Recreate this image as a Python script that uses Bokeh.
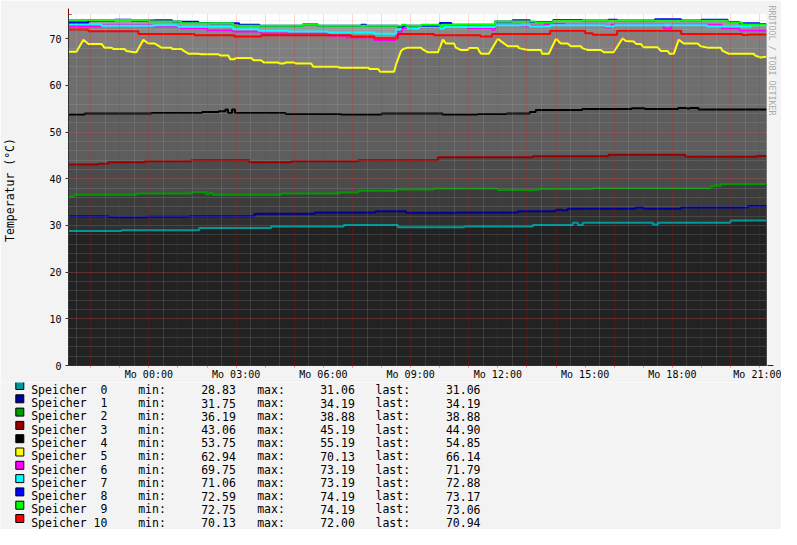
import numpy as np
from bokeh.plotting import figure
from bokeh.layouts import column
from bokeh.models import Range1d, FixedTicker, Title, Arrow, NormalHead
from bokeh.core.properties import value
from bokeh.embed import file_html
from bokeh.resources import INLINE

FONT = "DejaVu Sans Mono"

# ---------------- data ----------------
# time in hours relative to Monday 00:00
T_START = -2.764
T_END = 21.236
Y_MAX = 75.2

tick_hours = [0, 3, 6, 9, 12, 15, 18, 21]
tick_labels = ["Mo 00:00", "Mo 03:00", "Mo 06:00", "Mo 09:00",
               "Mo 12:00", "Mo 15:00", "Mo 18:00", "Mo 21:00"]
y_ticks = [0, 10, 20, 30, 40, 50, 60, 70]

names = ["Speicher\u00a0 0", "Speicher\u00a0 1", "Speicher\u00a0 2", "Speicher\u00a0 3",
         "Speicher\u00a0 4", "Speicher\u00a0 5", "Speicher\u00a0 6", "Speicher\u00a0 7",
         "Speicher\u00a0 8", "Speicher\u00a0 9", "Speicher 10"]
colors = ["#009999", "#000099", "#009900", "#990000", "#000000", "#ffff00",
          "#ff00ff", "#00ffff", "#0000ff", "#00ff00", "#ff0000"]
area_greys = ["#222222", "#2f2f2f", "#3c3c3c", "#4b4b4b", "#5d5d5d", "#6e6e6e",
              "#8a8a8a", "#939393", "#a3a3a3", "#9b9b9b", "#7f7f7f"]
mins = ["28.83", "31.75", "36.19", "43.06", "53.75", "62.94",
        "69.75", "71.06", "72.59", "72.75", "70.13"]
maxs = ["31.06", "34.19", "38.88", "45.19", "55.19", "70.13",
        "73.19", "73.19", "74.19", "74.19", "72.00"]
lasts = ["31.06", "34.19", "38.88", "44.90", "54.85", "66.14",
         "71.79", "72.88", "73.17", "73.06", "70.94"]

# step series: change times (h) and values
s0_t = [-2.764, -0.94, 1.73, 4.2, 6.7, 8.56, 10.84, 13.2, 14.58, 14.75, 14.92, 17.33, 17.5, 20.0]
s0_v = [28.83, 28.95, 29.45, 29.8, 30.08, 29.6, 29.8, 30.08, 30.6, 30.1, 30.6, 30.2, 30.6, 31.06]

s1_t = [-2.764, -1.39, -1.22, -0.08, 1.39, 3.63, 5.7, 7.8, 8.84, 10.6, 12.7, 14.0, 14.2, 14.4, 16.74, 17.0, 18.3, 20.6]
s1_v = [31.95, 31.8, 31.75, 31.85, 31.95, 32.5, 32.8, 33.05, 32.7, 32.8, 33.05, 33.35, 33.25, 33.6, 33.86, 33.6, 33.86, 34.19]

s2_t = [-2.764, -2.58, -0.43, 1.46, 1.97, 2.08, 2.2, 4.55, 6.55, 7.2, 8.5, 9.8, 12.0, 13.4, 15.26, 19.3, 19.45, 19.55, 19.66]
s2_v = [36.19, 36.6, 36.87, 37.1, 36.75, 36.95, 36.6, 36.87, 37.08, 37.45, 37.7, 37.94, 37.62, 37.8, 38.0, 38.35, 38.7, 38.5, 38.88]

s3_t = [-2.764, -1.75, -1.4, -0.15, 1.46, 3.46, 4.9, 7.2, 9.94, 13.2, 15.8, 18.45, 20.9]
s3_v = [43.06, 43.2, 43.56, 43.77, 43.99, 43.56, 43.77, 43.99, 44.63, 44.85, 45.15, 44.7, 44.9]

s4_t = [-2.764, -2.21, 0.09, 1.83, 2.4, 2.63, 2.72, 2.86, 2.96, 4.7, 6.6, 8.0, 10.1, 11.3,
        12.3, 13.1, 13.3, 14.9, 16.6, 17.05, 18.2, 18.5, 18.6, 18.9]
s4_v = [53.75, 54.0, 54.1, 54.3, 54.45, 54.85, 54.1, 54.85, 54.1, 53.9, 53.75, 54.0, 53.75, 53.9,
        54.0, 54.3, 54.76, 54.97, 55.1, 54.97, 55.19, 55.05, 55.19, 54.85]

# yellow series: line points
s5_t = [-2.764, -2.49, -2.25, -2.08, -1.63, -1.53, -1.29, -1.22, -0.84, -0.77, -0.50, -0.43,
        -0.19, -0.02, 0.19, 0.43, 0.77, 0.80, 1.12, 1.20, 1.36, 1.70, 1.80, 2.39, 2.45, 2.73,
        2.80, 2.94, 3.00, 3.52, 3.60, 3.86, 3.95, 4.45, 4.50, 4.65, 4.70, 5.00, 5.05, 5.58,
        5.65, 6.51, 6.55, 7.54, 7.60, 7.88, 7.95, 8.43, 8.50, 8.67, 8.75, 8.91, 9.36, 9.40,
        9.60, 9.94, 10.11, 10.21, 10.49, 10.55, 10.73, 10.97, 11.0, 11.31, 11.35, 11.42, 11.69,
        12.00, 12.10, 12.34, 12.69, 12.72, 13.03, 13.48, 13.52, 13.75, 14.00, 14.16, 14.40,
        14.51, 14.85, 14.9, 15.09, 15.54, 15.64, 15.98, 16.29, 16.40, 16.67, 16.75, 16.91,
        17.01, 17.49, 17.60, 17.84, 17.9, 18.05, 18.22, 18.39, 18.87, 18.97, 19.21, 19.66,
        19.73, 19.93, 20.79, 20.85, 21.03, 21.236]
s5_v = [67.2, 67.2, 69.8, 68.9, 68.9, 68.1, 68.1, 67.8, 67.8, 67.4, 67.1, 67.1,
        69.8, 69.0, 69.0, 68.1, 68.1, 67.8, 67.8, 67.4, 66.8, 66.8, 66.7, 66.7, 66.4, 66.4,
        65.6, 65.6, 65.9, 65.9, 65.4, 65.4, 64.9, 64.9, 64.7, 64.7, 64.9, 64.9, 64.7, 64.7,
        64.0, 64.0, 63.8, 63.8, 63.5, 63.5, 62.94, 62.94, 64.5, 67.4, 67.8, 68.1, 68.1, 67.8,
        67.1, 67.1, 69.8, 69.0, 69.0, 68.1, 67.6, 67.6, 68.0, 68.0, 67.4, 66.8, 66.8,
        70.0, 69.5, 68.4, 68.4, 68.0, 67.6, 67.6, 66.8, 66.8, 70.0, 69.0, 69.0,
        68.4, 68.4, 68.0, 67.6, 67.6, 67.1, 67.1, 70.13, 69.5, 69.4, 68.9, 68.9,
        68.2, 68.2, 67.4, 67.4, 66.8, 66.8, 69.8, 69.0, 69.0, 68.4, 68.1, 68.1,
        67.4, 66.8, 66.8, 66.4, 66.0, 66.14]

s6_t = [-2.764, -1.63, 0.1, 1.1, 2.0, 2.9, 3.86, 6.2, 6.8, 7.75, 8.5, 8.7, 9.36, 10.97, 11.8,
        11.9, 12.8, 13.6, 14.3, 15.7, 15.9, 17.7, 17.95, 19.7, 20.3]
s6_v = [72.64, 72.92, 72.64, 72.21, 71.84, 71.57, 71.14, 70.64, 70.28, 69.75, 71.5, 72.3, 72.64,
        72.28, 71.93, 73.0, 72.78, 73.19, 73.0, 72.4, 73.0, 72.2, 73.0, 72.2, 71.79]

s7_t = [-2.764, -1.63, 0.2, 1.0, 2.9, 3.76, 4.8, 6.16, 7.75, 8.5, 8.65, 8.9, 9.3, 10.0, 10.15,
        11.9, 13.1, 13.8, 15.7, 16.0, 19.2, 20.7]
s7_v = [73.1, 72.78, 72.9, 72.57, 72.06, 71.72, 71.57, 71.35, 71.06, 72.0, 72.7, 72.2, 72.5, 72.2,
        72.5, 72.92, 72.64, 72.92, 72.64, 72.92, 72.64, 72.88]

s8_t = [-2.764, -2.08, -1.18, -0.6, 0.2, 0.8, 1.1, 1.7, 2.1, 3.1, 3.8, 5.3, 5.8, 7.3, 7.47, 8.56,
        8.74, 10.0, 10.4, 11.9, 12.5, 13.1, 13.9, 14.9, 15.8, 16.1, 17.4, 18.3, 19.0, 19.9, 20.3, 21.0]
s8_v = [73.5, 73.9, 74.1, 73.9, 73.95, 73.7, 73.65, 73.4, 73.3, 73.0, 72.8, 73.1, 72.8, 73.0, 72.8,
        72.59, 72.8, 73.4, 73.0, 73.7, 73.95, 73.6, 74.0, 73.9, 74.05, 73.9, 74.19, 73.9, 74.05,
        73.6, 73.3, 73.17]

s9_t = [-2.764, 0.0, 1.1, 2.9, 5.3, 5.8, 8.7, 8.85, 9.36, 10.0, 10.1, 11.9, 13.3, 13.9, 19.9, 20.4]
s9_v = [74.0, 73.7, 73.3, 72.8, 73.1, 72.8, 73.0, 72.8, 73.0, 72.75, 73.0, 73.7, 73.5, 73.88, 73.5, 73.06]

s10_t = [-2.764, -2.08, -0.36, 1.57, 2.94, 3.86, 6.95, 7.75, 8.56, 9.8, 11.4, 11.8, 13.8, 15.0,
         15.26, 16.1, 18.3, 20.4, 20.6]
s10_v = [72.0, 71.6, 71.0, 70.77, 70.5, 70.77, 70.5, 70.13, 71.0, 70.77, 70.5, 71.0, 71.72, 71.2,
         70.85, 71.72, 71.0, 70.8, 70.94]


def step_xy(ts, vs, end=T_END):
    xs, ys = [], []
    for i, (t, v) in enumerate(zip(ts, vs)):
        t_next = ts[i + 1] if i + 1 < len(ts) else end
        xs += [t, t_next]
        ys += [v, v]
    return xs, ys


series = [step_xy(s0_t, s0_v), step_xy(s1_t, s1_v), step_xy(s2_t, s2_v),
          step_xy(s3_t, s3_v), step_xy(s4_t, s4_v), (s5_t, s5_v),
          step_xy(s6_t, s6_v), step_xy(s7_t, s7_v), step_xy(s8_t, s8_v),
          step_xy(s9_t, s9_v), step_xy(s10_t, s10_v)]

# ---------------- main plot ----------------
BG = "#f3f3f3"
W = 781
MAIN_H = 382
FRAME_L, FRAME_W, FRAME_T, FRAME_H = 67, 699, 14, 351
p = figure(width=W, height=MAIN_H, x_range=Range1d(T_START, T_END), y_range=Range1d(0, Y_MAX),
           output_backend="svg", toolbar_location=None,
           min_border_left=FRAME_L, min_border_right=W - FRAME_L - FRAME_W,
           min_border_top=FRAME_T, min_border_bottom=MAIN_H - FRAME_T - FRAME_H)
p.frame_align = False
p.background_fill_color = "white"
p.border_fill_color = BG
p.outline_line_color = None

# areas, highest first
area_order = [8, 9, 7, 6, 10, 5, 4, 3, 2, 1, 0]
for i in area_order:
    xs, ys = series[i]
    p.varea(x=xs, y1=0, y2=ys, fill_color=area_greys[i])

for i in range(11):
    xs, ys = series[i]
    p.line(xs, ys, line_color=colors[i], line_width=2)

# grids (drawn above data like rrdtool)
hour_ticks = list(range(-2, 22))
half_ticks = [h + 0.5 for h in range(-3, 21)]
p.xgrid.ticker = FixedTicker(ticks=hour_ticks, minor_ticks=half_ticks)
p.ygrid.ticker = FixedTicker(ticks=y_ticks, minor_ticks=list(range(0, 76, 2)))
for g in (p.xgrid, p.ygrid):
    g.level = "guide"
    g.grid_line_color = "#ff0000"
    g.grid_line_alpha = 0.33
    g.grid_line_dash = "1 1"
    g.minor_grid_line_color = "#c0c0c0"
    g.minor_grid_line_alpha = 0.33
    g.minor_grid_line_dash = "1 1"

# x axis: a red tick every hour, labels every 3 hours
overrides = {h: "" for h in hour_ticks}
overrides.update({h: lab for h, lab in zip(tick_hours, tick_labels)})
p.xaxis.ticker = FixedTicker(ticks=hour_ticks)
p.xaxis.major_label_overrides = overrides
p.yaxis.ticker = FixedTicker(ticks=y_ticks)
for ax in (p.xaxis, p.yaxis):
    ax.major_label_text_font = FONT
    ax.major_label_text_font_size = "10px"
    ax.major_label_text_color = "black"
    ax.axis_line_color = "#303030"
    ax.minor_tick_line_color = None
p.xaxis.major_tick_out = 2
p.xaxis.major_tick_in = 0
p.xaxis.major_tick_line_color = "#ff0000"
p.xaxis.major_tick_line_alpha = 0.5
p.xaxis.major_label_standoff = 1
p.yaxis.major_tick_out = 3
p.yaxis.major_tick_in = 0
p.yaxis.major_tick_line_color = "#303030"
p.yaxis.major_label_standoff = 4
p.yaxis.axis_label = "Temperatur (°C)"
p.yaxis.axis_label_text_font = FONT
p.yaxis.axis_label_text_font_size = "11.5px"
p.yaxis.axis_label_text_font_style = "normal"
p.yaxis.axis_label_text_color = "black"
p.yaxis.axis_label_standoff = 29

p.add_layout(Title(text="RRDTOOL / TOBI OETIKER", align="left", text_font=FONT,
                   text_font_size="8.3px", text_font_style="normal", text_color="#aaaaaa",
                   standoff=0, offset=-9), "right")

px_per_h = FRAME_W / (T_END - T_START)
px_per_v = FRAME_H / Y_MAX
p.add_layout(Arrow(end=NormalHead(size=6, fill_color="#800000", line_color="#800000"),
                   x_start=T_START, y_start=Y_MAX - 0.1, x_end=T_START, y_end=Y_MAX + 6 / px_per_v,
                   line_color="#800000", line_width=1))
p.add_layout(Arrow(end=NormalHead(size=6, fill_color="#800000", line_color="#800000"),
                   x_start=T_END - 0.01, y_start=0, x_end=T_END + 7 / px_per_h, y_end=0,
                   line_color="#800000", line_width=1))

# ---------------- legend ----------------
LH = 529 - MAIN_H
lg = figure(width=W, height=LH, x_range=Range1d(0, W), y_range=Range1d(LH, 0),
            output_backend="svg", toolbar_location=None, x_axis_type=None, y_axis_type=None,
            min_border=0, min_border_left=0, min_border_right=0, min_border_top=0,
            min_border_bottom=0)
lg.frame_align = False
lg.background_fill_color = BG
lg.border_fill_color = BG
lg.outline_line_color = None
lg.grid.visible = False

rows = list(range(11))
row_c = [385 - MAIN_H + 13.3 * r for r in rows]
base_y = [c + 4.2 for c in row_c]
lg.rect(x=[19.3] * 11, y=row_c, width=8, height=8, fill_color=colors, line_color="black",
        line_width=1)
tf = value(FONT)
ts = value("11.5px")
cols = [(30.7, names, "left"), (137.7, ["min:"] * 11, "left"), (235.3, mins, "right"),
        (256.7, ["max:"] * 11, "left"), (354.3, maxs, "right"),
        (375.0, ["last:"] * 11, "left"), (480.0, lasts, "right")]
for cx, txt, al in cols:
    lg.text(x=[cx] * 11, y=base_y, text=txt, text_font=tf, text_font_size=ts,
            text_baseline="alphabetic", text_align=al, text_color="black")

layout = column(p, lg, spacing=0)
open("out.html", "w").write(file_html(layout, INLINE))
